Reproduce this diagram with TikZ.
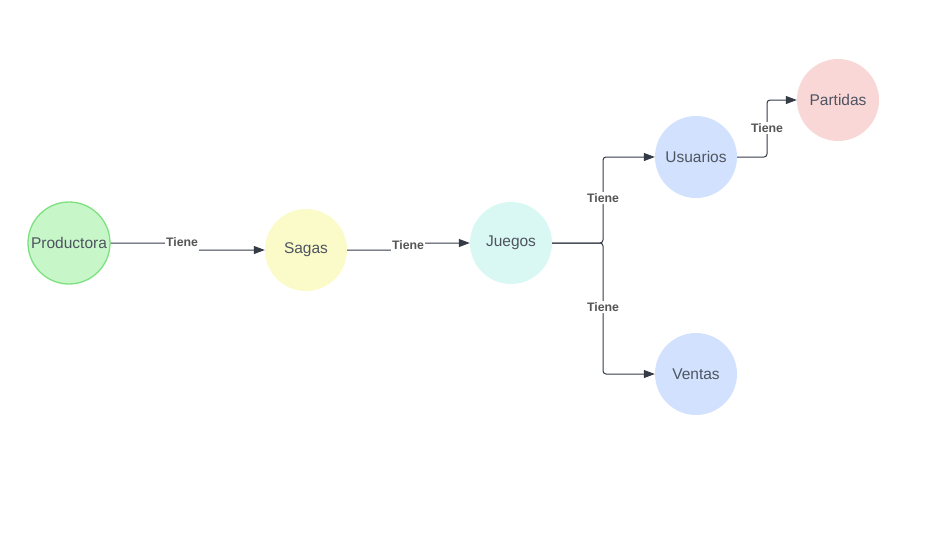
\documentclass[tikz,border=0pt]{standalone}
\usepackage{fontspec}
\setmainfont{Liberation Sans}
\usetikzlibrary{arrows.meta}
\definecolor{txtgray}{HTML}{4E5460}
\definecolor{lblgray}{HTML}{555555}
\definecolor{linegray}{HTML}{343B46}
\definecolor{prodfill}{HTML}{C7F6C9}
\definecolor{prodline}{HTML}{7EE17F}
\definecolor{sagafill}{HTML}{FBFBC9}
\definecolor{juegofill}{HTML}{D9F8F3}
\definecolor{bluefill}{HTML}{D2E2FE}
\definecolor{partfill}{HTML}{FAD7D7}
\begin{document}
\begin{tikzpicture}[x=1pt,y=-1pt,
  ent/.style={circle,minimum size=82pt,inner sep=0pt,text=txtgray,
    font=\fontsize{15.5}{18}\selectfont},
  conn/.style={draw=linegray,line width=1pt,rounded corners=3pt,
    -{Triangle[length=11pt,width=8pt]}},
  lbl/.style={fill=white,inner sep=1pt,text=lblgray,
    font=\fontsize{12.3}{14}\selectfont\bfseries}]
\useasboundingbox (0,0) rectangle (933,533);
% entities
\node[ent,fill=prodfill,draw=prodline,line width=1.3pt] (prod) at (69,243) {Productora};
\node[ent,fill=sagafill] (sagas) at (306,250) {Sagas};
\node[ent,fill=juegofill] (juegos) at (511,243) {Juegos};
\node[ent,fill=bluefill] (usu) at (696,157) {Usuarios};
\node[ent,fill=bluefill] (ventas) at (696,374) {Ventas};
\node[ent,fill=partfill] (part) at (838,100) {Partidas};
% connectors
\coordinate (c1) at (182,246.7);
\coordinate (c2) at (408,249.5);
\coordinate (c3) at (603,198);
\coordinate (c4) at (603,307);
\coordinate (c5) at (767,128);
\draw[conn] (prod.east) -- (prod.east -| c1) -- (sagas.west -| c1) -- (sagas.west);
\draw[conn] (sagas.east) -- (sagas.east -| c2) -- (juegos.west -| c2) -- (juegos.west);
\draw[conn] (juegos.east) -- (juegos.east -| c3) -- (usu.west -| c3) -- (usu.west);
\draw[conn] (juegos.east) -- (juegos.east -| c4) -- (ventas.west -| c4) -- (ventas.west);
\draw[conn] (usu.east) -- (usu.east -| c5) -- (part.west -| c5) -- (part.west);
% labels
\node[lbl,anchor=base,text depth=5pt] (l1) at (c1) {Tiene};
\node[lbl,anchor=base] (l2) at (c2) {Tiene};
\node[lbl] (l3) at (c3) {Tiene};
\node[lbl] (l4) at (c4) {Tiene};
\node[lbl] (l5) at (c5) {Tiene};
\end{tikzpicture}
\end{document}
